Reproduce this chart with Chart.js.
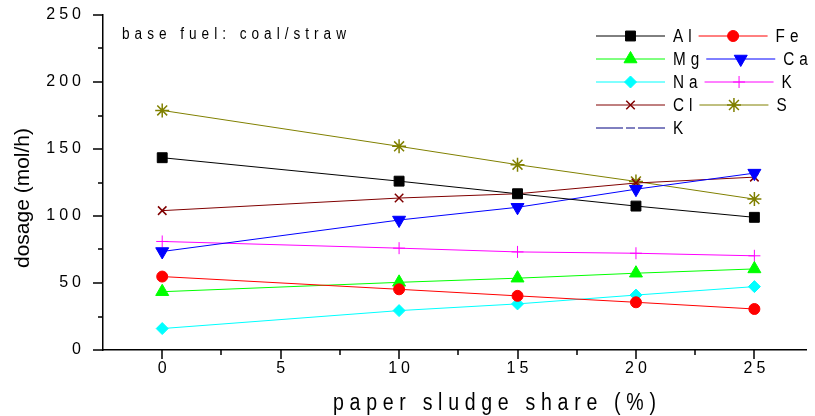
<!DOCTYPE html>
<html>
<head>
<meta charset="utf-8">
<title>dosage vs paper sludge share</title>
<script src="https://cdn.jsdelivr.net/npm/chart.js@4"></script>
<style>
  html, body { margin: 0; padding: 0; background: #fff; }
  #chart { display: block; }
</style>
</head>
<body>
<canvas id="chart" width="815" height="416"></canvas>
<script>
/* dosage (mol/h) of each element vs. paper sludge share, base fuel coal/straw */

const SHARE = [0, 10, 15, 20, 25];

const AL = [143.5, 126, 116.6, 107.4, 99];
const FE = [54.8, 45.3, 40.4, 35.6, 30.6];
const MG = [43.5, 50.5, 53.6, 57.3, 60.5];
const CA = [73.5, 97, 106.5, 120, 132];
const NA = [16, 29.4, 34.4, 41, 47.3];
const K = [81, 76, 73.2, 72.2, 70.3];
const CL = [104, 113.4, 116.6, 124.6, 129];
const S = [178.8, 152, 138.3, 125.8, 112.6];

const X_TICKS = [0, 5, 10, 15, 20, 25];
const X_MINOR = [2.5, 7.5, 12.5, 17.5, 22.5];
const Y_TICKS = [0, 50, 100, 150, 200, 250];
const Y_MINOR = [25, 75, 125, 175, 225];

const FONT = "'Liberation Sans', Arial, sans-serif";
const SQUEEZE = 0.85;   // narrow look for the spaced-out labels

function series(label, values, color, style, extra) {
  return Object.assign({
    label,
    data: values.map((v, i) => ({ x: SHARE[i], y: v })),
    borderColor: color,
    backgroundColor: color,
    pointBorderColor: color,
    pointBackgroundColor: color,
    borderWidth: 1,
    pointStyle: style,
    pointRadius: 6,
    pointBorderWidth: 1,
    tension: 0,
  }, extra || {});
}

const datasets = [
  series('Al', AL, '#000000', 'rect', { pointRadius: 7 }),
  series('Fe', FE, '#ff0000', 'circle', { pointRadius: 5.5 }),
  series('Mg', MG, '#00ff00', 'triangle', { pointRadius: 7.5 }),
  series('Ca', CA, '#0000ff', 'triangle', { pointRadius: 7.5, pointRotation: 180 }),
  series('Na', NA, '#00ffff', 'rectRot', { pointRadius: 6 }),
  series('K', K, '#ff00ff', 'cross', { pointRadius: 6 }),
  series('Cl', CL, '#800000', 'crossRot', { pointRadius: 6, pointBorderWidth: 1.5 }),
  series('S', S, '#808000', 'star', { pointRadius: 7, pointBorderWidth: 1.5 }),
  series('K', [], '#000080', false, { borderDash: [27, 3, 9, 3] }),
];

// squeezed text with letter spacing; returns the drawn width
function spacedText(ctx, text, x, y, size, spacing) {
  ctx.save();
  ctx.font = `${size}px ${FONT}`;
  ctx.translate(x, y);
  ctx.scale(SQUEEZE, 1);
  ctx.letterSpacing = (spacing / SQUEEZE) + 'px';
  ctx.fillText(text, 0, 0);
  const w = ctx.measureText(text).width * SQUEEZE;
  ctx.restore();
  return w;
}

function drawTickMarks(chart) {
  const ctx = chart.ctx, x = chart.scales.x, y = chart.scales.y;
  const left = chart.chartArea.left, bottom = chart.chartArea.bottom;
  ctx.save();
  ctx.strokeStyle = '#000';
  ctx.lineWidth = 1.5;
  ctx.beginPath();
  X_TICKS.forEach(v => { const px = Math.round(x.getPixelForValue(v)); ctx.moveTo(px, bottom); ctx.lineTo(px, bottom + 9); });
  X_MINOR.forEach(v => { const px = Math.round(x.getPixelForValue(v)); ctx.moveTo(px, bottom); ctx.lineTo(px, bottom + 5); });
  Y_TICKS.forEach(v => { const py = Math.round(y.getPixelForValue(v)); ctx.moveTo(left, py); ctx.lineTo(left - 10, py); });
  Y_MINOR.forEach(v => { const py = Math.round(y.getPixelForValue(v)); ctx.moveTo(left, py); ctx.lineTo(left - 5, py); });
  ctx.stroke();
  ctx.restore();
}

function drawTitles(chart) {
  const ctx = chart.ctx;
  ctx.save();
  ctx.fillStyle = '#000';
  ctx.textAlign = 'left';
  ctx.textBaseline = 'alphabetic';
  spacedText(ctx, 'paper sludge share (%)', 333, 410, 23, 5.7);
  spacedText(ctx, 'base fuel: coal/straw', 122, 39, 16, 5);

  ctx.font = `21px ${FONT}`;
  ctx.letterSpacing = '0px';
  ctx.translate(23, 198);
  ctx.rotate(-Math.PI / 2);
  ctx.textAlign = 'center';
  ctx.textBaseline = 'middle';
  ctx.fillText('dosage (mol/h)', 0, 0);
  ctx.restore();
}

function drawLegend(chart) {
  const ctx = chart.ctx;
  ctx.save();
  ctx.textBaseline = 'middle';
  ctx.textAlign = 'left';
  let x = 596;
  chart.data.datasets.forEach((ds, i) => {
    const row = Math.floor(i / 2), col = i % 2;
    const y = Math.round(36 + row * 22.9);
    if (col === 0) x = 596;
    ctx.strokeStyle = ds.borderColor;
    ctx.lineWidth = 1;
    ctx.setLineDash(ds.borderDash || []);
    ctx.beginPath();
    ctx.moveTo(x, y);
    ctx.lineTo(x + 69, y);
    ctx.stroke();
    ctx.setLineDash([]);
    if (ds.pointStyle) {
      ctx.fillStyle = ds.pointBackgroundColor;
      ctx.strokeStyle = ds.pointBorderColor;
      ctx.lineWidth = ds.pointBorderWidth;
      Chart.helpers.drawPoint(ctx, {
        pointStyle: ds.pointStyle,
        radius: ds.pointRadius,
        rotation: ds.pointRotation || 0,
        borderWidth: ds.pointBorderWidth,
      }, x + 34.5, y);
    }
    ctx.fillStyle = '#000';
    const w = spacedText(ctx, ds.label, x + 77, y + 1, 18, 5);
    x = x + 77 + w + 2;
  });
  ctx.restore();
}

const decor = {
  id: 'decor',
  beforeLayout(chart) { chart.ctx.letterSpacing = '4px'; },
  beforeDraw(chart) { chart.ctx.letterSpacing = '4px'; },
  afterDraw(chart) {
    drawTickMarks(chart);
    drawTitles(chart);
    drawLegend(chart);
  },
};

new Chart(document.getElementById('chart'), {
  type: 'line',
  data: { datasets },
  options: {
    responsive: false,
    devicePixelRatio: 1,
    animation: false,
    layout: { padding: { top: 15, right: 0, bottom: 0, left: 0 } },
    plugins: { legend: { display: false }, tooltip: { enabled: false } },
    scales: {
      x: {
        type: 'linear',
        min: -2.5,
        max: 27.2,
        afterBuildTicks: scale => { scale.ticks = X_TICKS.map(v => ({ value: v })); },
        afterFit: scale => { scale.height = 66; },
        grid: { display: false, drawTicks: false },
        border: { display: true, color: '#000', width: 1.5 },
        // letter spacing leaves a trailing gap, nudge labels back over the tick
        ticks: { color: '#000', padding: 9, labelOffset: 2, maxRotation: 0, font: { family: FONT, size: 16 } },
      },
      y: {
        min: 0,
        max: 250,
        afterBuildTicks: scale => { scale.ticks = Y_TICKS.map(v => ({ value: v })); },
        afterFit: scale => {
          scale.width = 103;
          scale.paddingTop = 0;
          scale.paddingBottom = 0;
        },
        grid: { display: false, drawTicks: false },
        border: { display: true, color: '#000', width: 1.5 },
        ticks: { color: '#000', padding: 18, font: { family: FONT, size: 16 } },
      },
    },
  },
  plugins: [decor],
});
</script>
</body>
</html>
